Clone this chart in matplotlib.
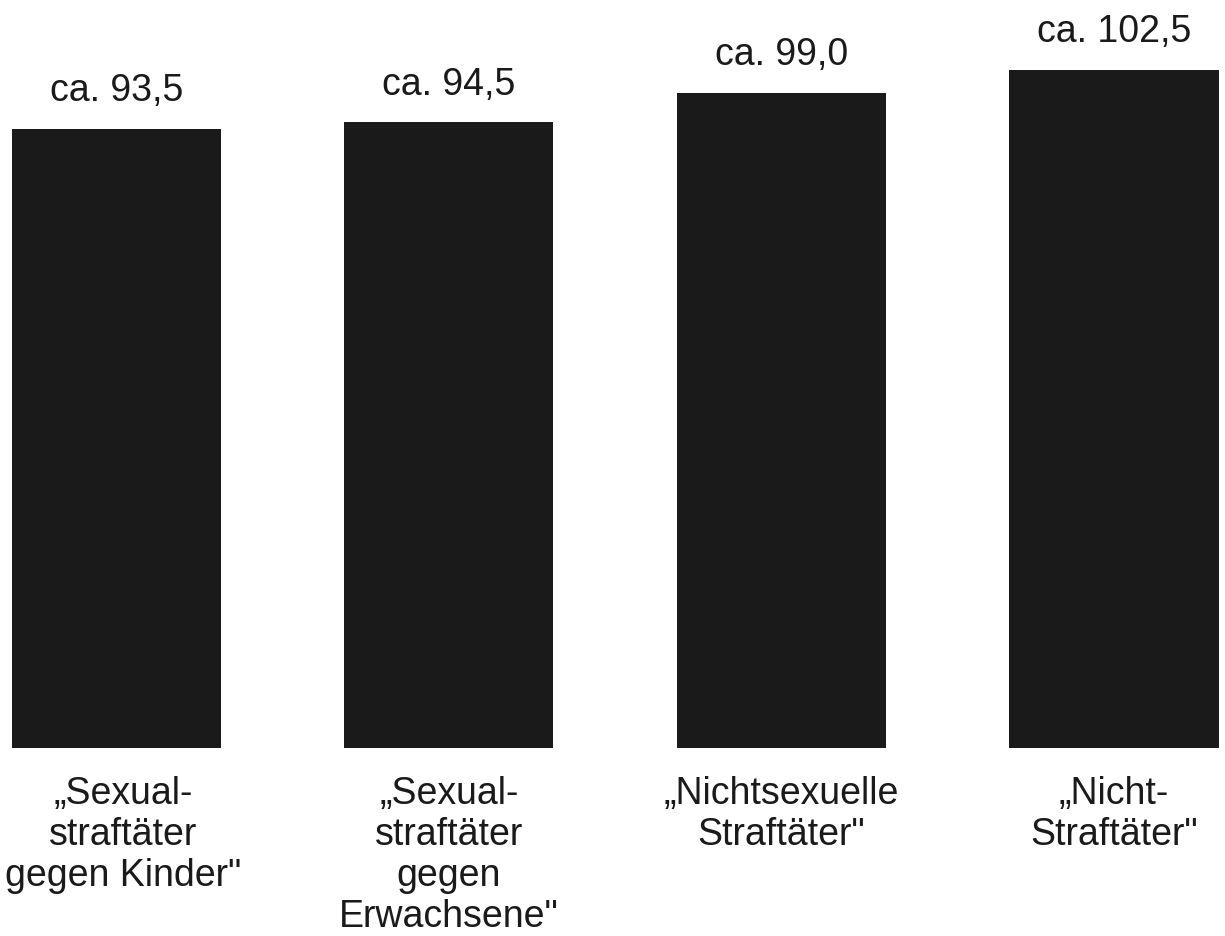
import matplotlib
matplotlib.use("Agg")
import matplotlib.pyplot as plt

categories = ["„Sexual-\nstraftäter\ngegen Kinder\"",
              "„Sexual-\nstraftäter\ngegen\nErwachsene\"",
              "„Nichtsexuelle\nStraftäter\"",
              "„Nicht-\nStraftäter\""]
values = [93.5, 94.5, 99.0, 102.5]
value_labels = ["ca. 93,5", "ca. 94,5", "ca. 99,0", "ca. 102,5"]

plt.rcParams['font.family'] = ['Liberation Sans', 'DejaVu Sans']

fig = plt.figure(figsize=(12.25, 9.36), dpi=100)
ax = fig.add_axes([0, 188 / 936, 1, 748 / 936])
x = list(range(len(values)))
ax.bar(x, values, width=0.629, color="#1a1a1a", edgecolor="none")
ax.set_xlim(-0.350, 3.334)
ax.set_ylim(0, 113.0)
ax.axis("off")

for xi, v, lab in zip(x, values, value_labels):
    ax.text(xi, v + 4.2, lab, ha="center", va="baseline", fontsize=27, color="#1a1a1a")

# small nudge keeps the widest left label inside the canvas
label_shift = [0.02, 0.0, 0.0, 0.0]
for xi, cat, dx in zip(x, categories, label_shift):
    ax.text(xi + dx, -4.3, cat, ha="center", va="top", fontsize=27, color="#1a1a1a",
            multialignment="center", linespacing=1.17, clip_on=False)

fig.savefig("out.png", dpi=100, facecolor="white")
